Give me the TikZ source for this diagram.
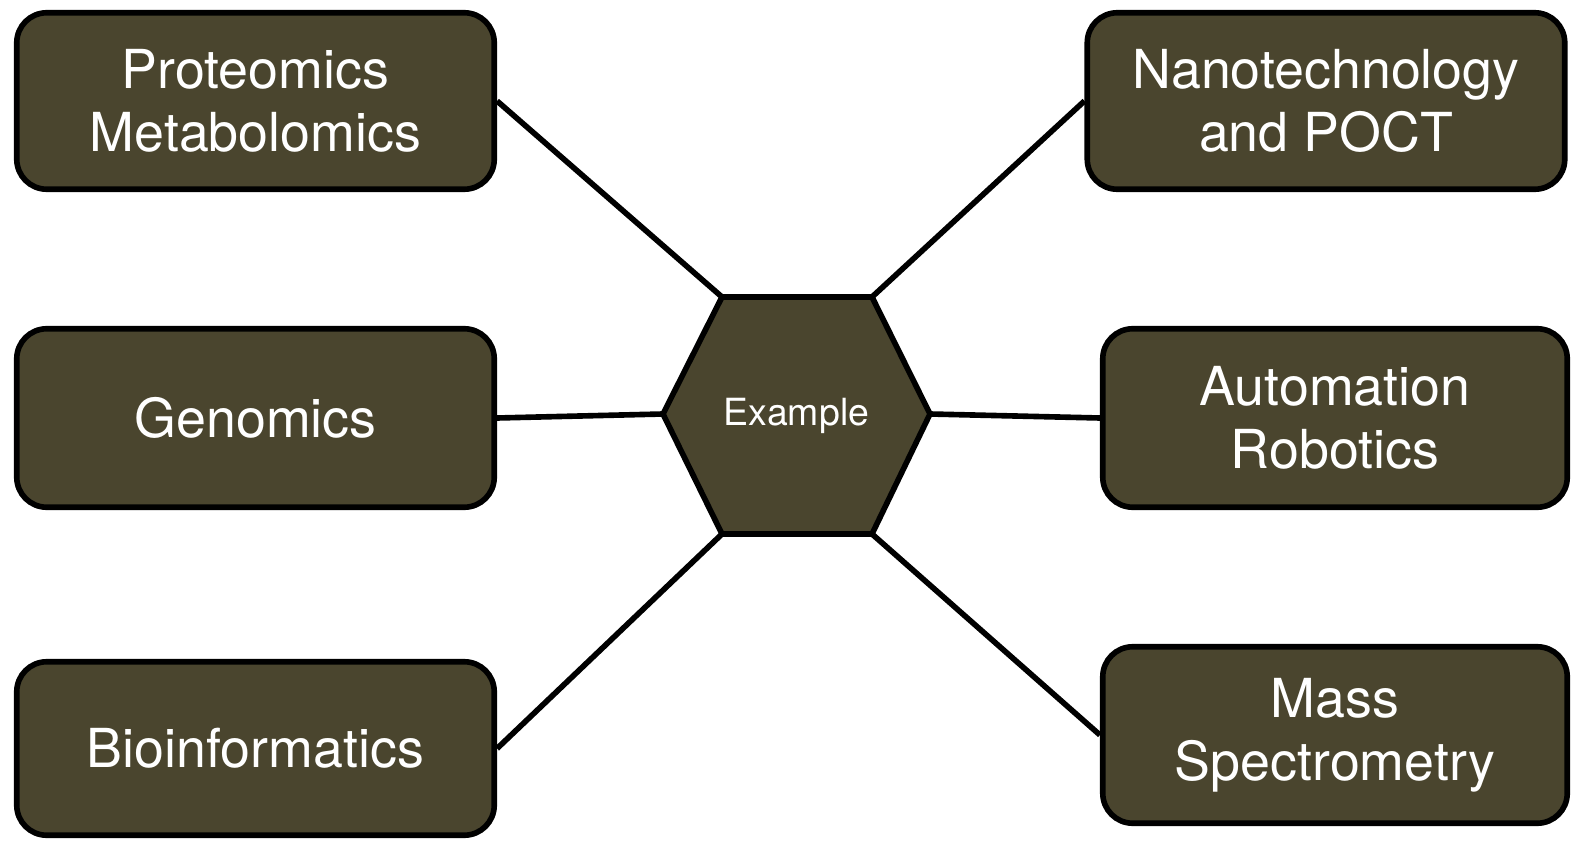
\documentclass[tikz,border=0pt]{standalone}
\usepackage{fontspec}
\setmainfont{TeX Gyre Heros}
\definecolor{oliva}{HTML}{4A452E}

\begin{document}
\begin{tikzpicture}[
	caja/.style={draw=black, line width=3.2pt, fill=oliva, rounded corners=0.6cm, minimum width=9.55cm, minimum height=3.53cm, text=white, align=center, font=\fontsize{30.6}{36}\selectfont},
	enlace/.style={line width=3.2pt}]
	\useasboundingbox (0,0) rectangle (31.44,16.82); %marco
	\coordinate (h1) at (14.44,10.88); %vertices del hexagono
	\coordinate (h2) at (17.44,10.88);
	\coordinate (h3) at (18.60,8.54);
	\coordinate (h4) at (17.44,6.14);
	\coordinate (h5) at (14.44,6.14);
	\coordinate (h6) at (13.26,8.54);
	\draw[line width=3.2pt, fill=oliva, line join=miter] (h1) -- (h2) -- (h3) -- (h4) -- (h5) -- (h6) -- cycle; %hexagono central
	\node[text=white, font=\fontsize{21.3}{25}\selectfont] (centro) at (15.93,8.51) {Example};
	\node[caja] (prot) at (5.11,14.80) {Proteomics\\Metabolomics}; %columna izquierda
	\node[caja, minimum height=3.57cm] (geno) at (5.11,8.46) {Genomics};
	\node[caja, minimum height=3.47cm] (bioinf) at (5.11,1.85) {Bioinformatics};
	\node[caja] (nano) at (26.52,14.80) {Nanotechnology\\and POCT}; %columna derecha
	\node[caja, minimum width=9.29cm, minimum height=3.57cm] (auto) at (26.70,8.46) {Automation\\Robotics};
	\node[caja, minimum width=9.29cm] (mass) at (26.70,2.12) {Mass\\Spectrometry};
	\draw[enlace] (prot.east) -- (h1); %enlaces
	\draw[enlace] (geno.east) -- (h6);
	\draw[enlace] (bioinf.east) -- (h5);
	\draw[enlace] (nano.west) -- (h2);
	\draw[enlace] (auto.west) -- (h3);
	\draw[enlace] (mass.west) -- (h4);
\end{tikzpicture}
\end{document}
